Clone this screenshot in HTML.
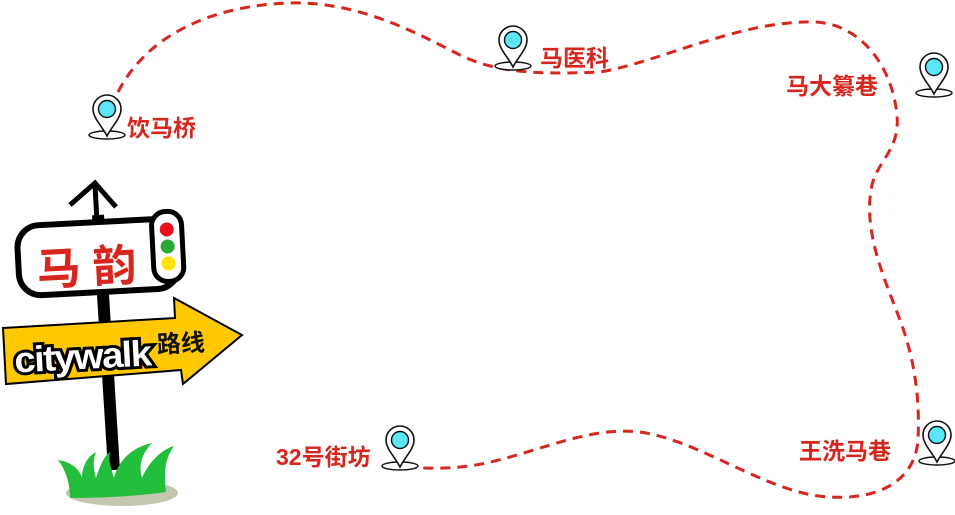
<!DOCTYPE html>
<html><head><meta charset="utf-8"><style>
html,body{margin:0;padding:0;background:#fff;}
body{width:955px;height:510px;overflow:hidden;}
svg text{font-family:"Liberation Sans","Noto Sans CJK SC",sans-serif;font-weight:bold;}
</style></head><body>
<svg width="955" height="510" viewBox="0 0 955 510" xmlns="http://www.w3.org/2000/svg">
<defs>
<g id="pin">
<ellipse cx="0" cy="-1" rx="18" ry="4" fill="#fff" stroke="#111" stroke-width="1.5"/>
<path d="M0,0 C-5,-10 -14,-18 -14,-27 A14,14 0 1 1 14,-27 C14,-18 5,-10 0,0 Z" fill="#fff" stroke="#111" stroke-width="1.6"/>
<circle cx="0" cy="-27" r="8.5" fill="#5ce6fb" stroke="#111" stroke-width="1.4"/>
</g>
</defs>
<path d="M118,92 C150,30 220,5 290,3 C360,1 420,35 460,55 C500,75 550,74 600,72 C660,62 740,20 815,22 C860,24 892,65 897,115 C900,150 878,160 872,185 C862,230 885,280 900,320 C915,360 920,400 918,440 C915,480 880,500 830,497 C770,495 700,440 640,432 C580,425 520,462 460,467 C440,469 420,468 405,467" fill="none" stroke="#d6261e" stroke-width="3" stroke-dasharray="10,7"/>
<use href="#pin" x="107" y="136"/>
<use href="#pin" x="513" y="67"/>
<use href="#pin" x="934" y="94"/>
<use href="#pin" x="937" y="462"/>
<use href="#pin" x="400" y="467"/>
<g fill="#d6261e" font-size="23">
<text x="127" y="136">饮马桥</text>
<text x="540" y="66">马医科</text>
<text x="786" y="94">马大纂巷</text>
<text x="799" y="459">王洗马巷</text>
<text x="276" y="465">32号街坊</text>
</g>
<!-- sign -->
<ellipse cx="122" cy="493" rx="56" ry="13" fill="#c4c6b0"/>
<path d="M98,215 L114,470" stroke="#000" stroke-width="12"/>
<path d="M95,185 L97,222" stroke="#000" stroke-width="5"/>
<path d="M70,205 L95,183 L116,207" stroke="#000" stroke-width="5" fill="none"/>
<g transform="rotate(-3 100 255)">
<rect x="18" y="222" width="160" height="70" rx="22" fill="#fff" stroke="#000" stroke-width="6"/>
<rect x="153" y="215" width="30" height="70" rx="14" fill="#fff" stroke="#000" stroke-width="5"/>
<circle cx="168" cy="233" r="7" fill="#e8111b"/>
<circle cx="168" cy="250" r="7" fill="#27a935"/>
<circle cx="168" cy="267" r="7" fill="#ffe400"/>
<text x="36" y="282" font-size="44" fill="#d6261e" font-family="Liberation Serif,Noto Serif CJK SC,serif">马 韵</text>
</g>
<path d="M3,328 L175,318 L174,298 L242,335 L183,384 L181,370 L6,384 Z" fill="#ffc800" stroke="#000" stroke-width="2"/>
<g transform="rotate(-3 100 350)">
<text x="14" y="368" font-size="36" fill="#fff" stroke="#000" stroke-width="6" paint-order="stroke" letter-spacing="-1.5" textLength="136" lengthAdjust="spacingAndGlyphs">citywalk</text>
<text x="157" y="356" font-size="24" fill="#111">路线</text>
</g>
<path d="M58,460 C72,462 80,470 82,478 C82,466 88,456 96,452 C92,462 94,470 96,478 C100,466 104,456 110,452 C108,462 112,470 114,478 C118,462 130,448 152,443 C138,458 140,470 142,478 C148,464 160,450 174,446 C164,460 164,474 166,492 C140,496 100,498 70,498 C70,484 66,470 58,460 Z" fill="#23bf3c"/>
</svg>
</body></html>
